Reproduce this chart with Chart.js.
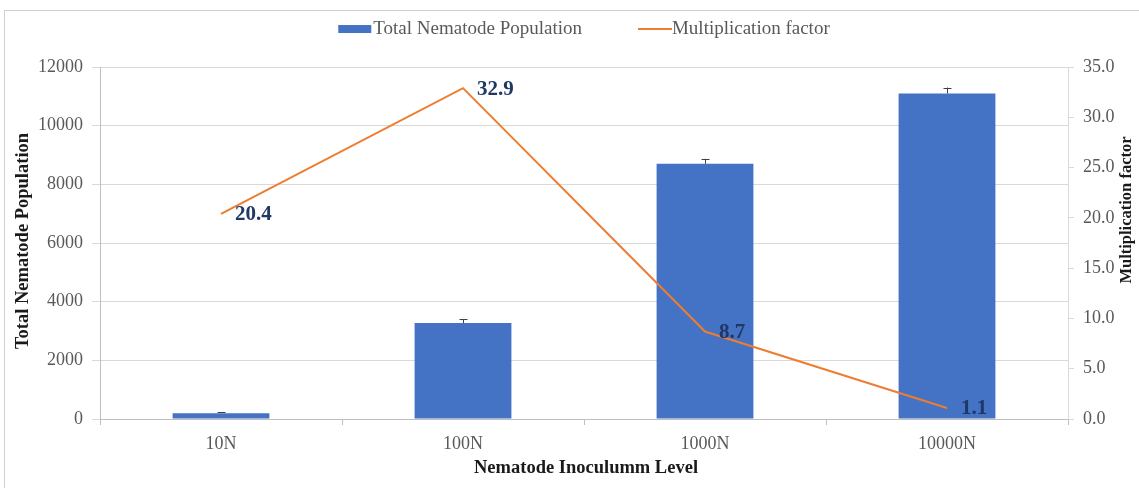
<!DOCTYPE html>
<html>
<head>
<meta charset="utf-8">
<script src="https://cdn.jsdelivr.net/npm/chart.js@4.4.1/dist/chart.umd.min.js"></script>
<style>
  html, body { margin: 0; padding: 0; background: #fff; }
  #wrap { width: 1139px; height: 488px; }
</style>
</head>
<body>
<div id="wrap"><canvas id="chart" width="1139" height="488"></canvas></div>
<script>
// data
const categories = ['10N', '100N', '1000N', '10000N'];
const populationValues = [200, 3270, 8700, 11100];
const populationErrors = [40, 130, 170, 200];
const factorValues = [20.4, 32.9, 8.7, 1.1];
const populationTicks = [0, 2000, 4000, 6000, 8000, 10000, 12000];
const factorTicks = [0, 5, 10, 15, 20, 25, 30, 35];

const SERIF = '"Liberation Serif", "Times New Roman", serif';
const BLUE = '#4472C4';
const ORANGE = '#ED7D31';
const GREY_TEXT = '#595959';

// draws frame, error bars, point labels, axis titles and the legend
const extras = {
  id: 'extras',
  beforeDraw(chart) {
    const ctx = chart.ctx;
    ctx.save();
    ctx.fillStyle = '#fff';
    ctx.fillRect(0, 0, chart.width, chart.height);
    ctx.strokeStyle = '#d0d0d0';
    ctx.lineWidth = 1;
    ctx.strokeRect(4.5, 10.5, chart.width + 10, chart.height + 10);
    ctx.restore();
  },
  afterDatasetsDraw(chart) {
    const ctx = chart.ctx;
    const y = chart.scales.y;
    const area = chart.chartArea;
    ctx.save();

    // error bars
    const barMeta = chart.getDatasetMeta(1);
    ctx.strokeStyle = '#404040';
    ctx.lineWidth = 1;
    barMeta.data.forEach((bar, i) => {
      const top = y.getPixelForValue(populationValues[i] + populationErrors[i]);
      const x = Math.round(bar.x) + 0.5;
      ctx.beginPath();
      ctx.moveTo(x, bar.y);
      ctx.lineTo(x, top);
      ctx.moveTo(x - 4, Math.round(top) + 0.5);
      ctx.lineTo(x + 4, Math.round(top) + 0.5);
      ctx.stroke();
    });

    // value labels for the line
    const lineMeta = chart.getDatasetMeta(0);
    ctx.font = 'bold 21px ' + SERIF;
    ctx.fillStyle = '#1F3864';
    ctx.textBaseline = 'middle';
    ctx.textAlign = 'left';
    lineMeta.data.forEach((pt, i) => {
      ctx.fillText(factorValues[i].toFixed(1), pt.x + 14, pt.y + 1);
    });

    // axis titles
    ctx.font = 'bold 18.5px ' + SERIF;
    ctx.fillStyle = '#1a1a1a';
    ctx.textAlign = 'center';
    ctx.fillText('Nematode Inoculumm Level', (area.left + area.right) / 2 + 2, 468);

    ctx.save();
    ctx.translate(23, 241);
    ctx.rotate(-Math.PI / 2);
    ctx.fillText('Total Nematode Population', 0, 0);
    ctx.restore();

    ctx.font = 'bold 16.5px ' + SERIF;
    ctx.save();
    ctx.translate(1127, 210);
    ctx.rotate(-Math.PI / 2);
    ctx.fillText('Multiplication factor', 0, 0);
    ctx.restore();

    // legend
    ctx.font = '19px ' + SERIF;
    ctx.textAlign = 'left';
    const t1 = 'Total Nematode Population';
    const t2 = 'Multiplication factor';
    const w1 = ctx.measureText(t1).width;
    const w2 = ctx.measureText(t2).width;
    const total = 33 + 2 + w1 + 56 + 34 + 0 + w2;
    let lx = (area.left + area.right) / 2 - total / 2;
    const ly = 29;
    ctx.fillStyle = BLUE;
    ctx.fillRect(lx, ly - 4, 33, 8);
    lx += 35;
    ctx.fillStyle = GREY_TEXT;
    ctx.fillText(t1, lx, ly);
    lx += w1 + 56;
    ctx.strokeStyle = ORANGE;
    ctx.lineWidth = 2;
    ctx.beginPath();
    ctx.moveTo(lx, ly);
    ctx.lineTo(lx + 34, ly);
    ctx.stroke();
    lx += 34;
    ctx.fillText(t2, lx, ly);

    ctx.restore();
  }
};

new Chart(document.getElementById('chart'), {
  type: 'bar',
  data: {
    labels: categories,
    datasets: [
      {
        type: 'line',
        label: 'Multiplication factor',
        data: factorValues,
        yAxisID: 'y1',
        borderColor: ORANGE,
        backgroundColor: ORANGE,
        borderWidth: 2,
        pointRadius: 0,
        tension: 0,
        order: 0
      },
      {
        type: 'bar',
        label: 'Total Nematode Population',
        data: populationValues,
        yAxisID: 'y',
        backgroundColor: BLUE,
        categoryPercentage: 1,
        barPercentage: 0.4,
        order: 1
      }
    ]
  },
  options: {
    responsive: false,
    animation: false,
    devicePixelRatio: 1,
    layout: { padding: { top: 67, left: 0, right: 0, bottom: 0 } },
    plugins: {
      legend: { display: false },
      tooltip: { enabled: false }
    },
    scales: {
      x: {
        offset: true,
        grid: { drawOnChartArea: false, offset: true, tickLength: 6, color: '#bfbfbf' },
        border: { color: '#bfbfbf' },
        ticks: { color: GREY_TEXT, font: { family: SERIF, size: 18 }, padding: 8 },
        afterFit(s) { s.height = 69; }
      },
      y: {
        position: 'left',
        min: populationTicks[0],
        max: populationTicks[populationTicks.length - 1],
        ticks: {
          stepSize: populationTicks[1] - populationTicks[0],
          color: GREY_TEXT,
          font: { family: SERIF, size: 18 },
          padding: 9,
          callback: v => String(v)
        },
        grid: { color: '#d9d9d9', tickLength: 8 },
        border: { color: '#bfbfbf' },
        afterFit(s) { s.width = 100; }
      },
      y1: {
        position: 'right',
        min: factorTicks[0],
        max: factorTicks[factorTicks.length - 1],
        ticks: {
          stepSize: factorTicks[1] - factorTicks[0],
          color: GREY_TEXT,
          font: { family: SERIF, size: 18 },
          padding: 9,
          callback: v => Number(v).toFixed(1)
        },
        grid: { drawOnChartArea: false, color: '#d9d9d9', tickLength: 6 },
        border: { color: '#d9d9d9' },
        afterFit(s) { s.width = 71; }
      }
    }
  },
  plugins: [extras]
});
</script>
</body>
</html>
